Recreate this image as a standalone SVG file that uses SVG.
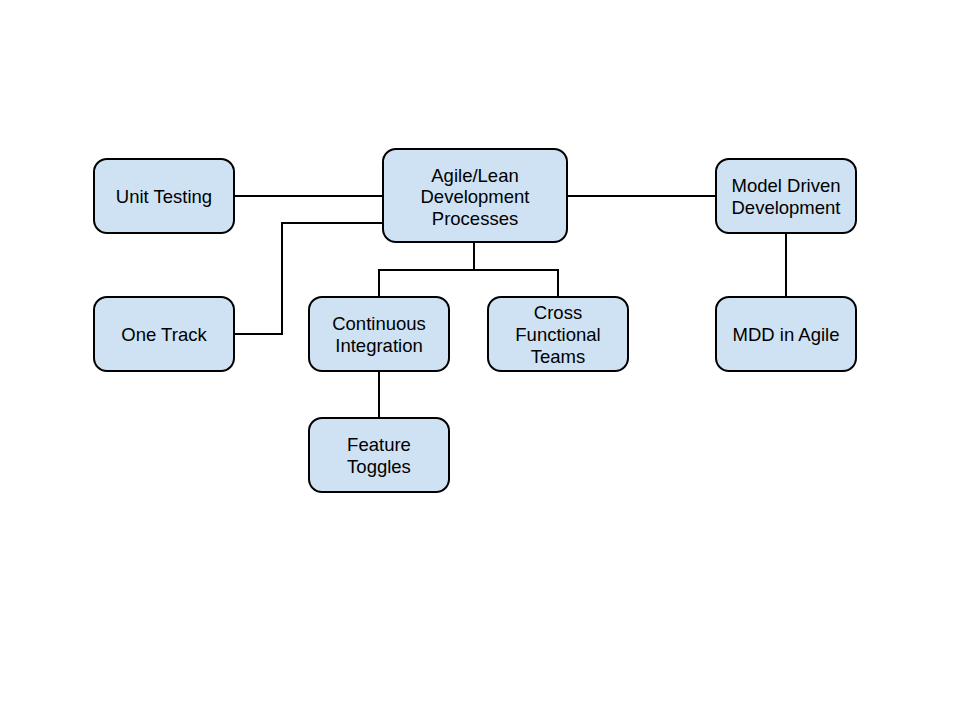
<svg xmlns="http://www.w3.org/2000/svg" width="960" height="720" viewBox="0 0 960 720">
<style>
.n rect{fill:#cfe2f3;stroke:#000;stroke-width:2}
.n text{font-family:"Liberation Sans",Arial,sans-serif;font-size:18.5px;fill:#000;text-anchor:middle}
.c path{fill:none;stroke:#000;stroke-width:2}
</style>
<rect width="960" height="720" fill="#fff"/>
<g class="c" id="connectors">
<path d="M234 196H383"/>
<path d="M234 334H282V223H383"/>
<path d="M567 196H716"/>
<path d="M474 242V270"/>
<path d="M379 297V270H558V297"/>
<path d="M379 371V418"/>
<path d="M786 233V297"/>
</g>
<g class="n" id="agile"><rect x="383" y="149" width="184" height="93" rx="13"/><text x="475" y="182">Agile/Lean</text><text x="475" y="203">Development</text><text x="475" y="225">Processes</text></g>
<g class="n" id="unit"><rect x="94" y="159" width="140" height="74" rx="13"/><text x="164" y="203">Unit Testing</text></g>
<g class="n" id="onetrack"><rect x="94" y="297" width="140" height="74" rx="13"/><text x="164" y="341">One Track</text></g>
<g class="n" id="ci"><rect x="309" y="297" width="140" height="74" rx="13"/><text x="379" y="330">Continuous</text><text x="379" y="352">Integration</text></g>
<g class="n" id="cft"><rect x="488" y="297" width="140" height="74" rx="13"/><text x="558" y="319">Cross</text><text x="558" y="341">Functional</text><text x="558" y="363">Teams</text></g>
<g class="n" id="ft"><rect x="309" y="418" width="140" height="74" rx="13"/><text x="379" y="451">Feature</text><text x="379" y="473">Toggles</text></g>
<g class="n" id="mdd"><rect x="716" y="159" width="140" height="74" rx="13"/><text x="786" y="192">Model Driven</text><text x="786" y="214">Development</text></g>
<g class="n" id="mddagile"><rect x="716" y="297" width="140" height="74" rx="13"/><text x="786" y="341">MDD in Agile</text></g>
</svg>
